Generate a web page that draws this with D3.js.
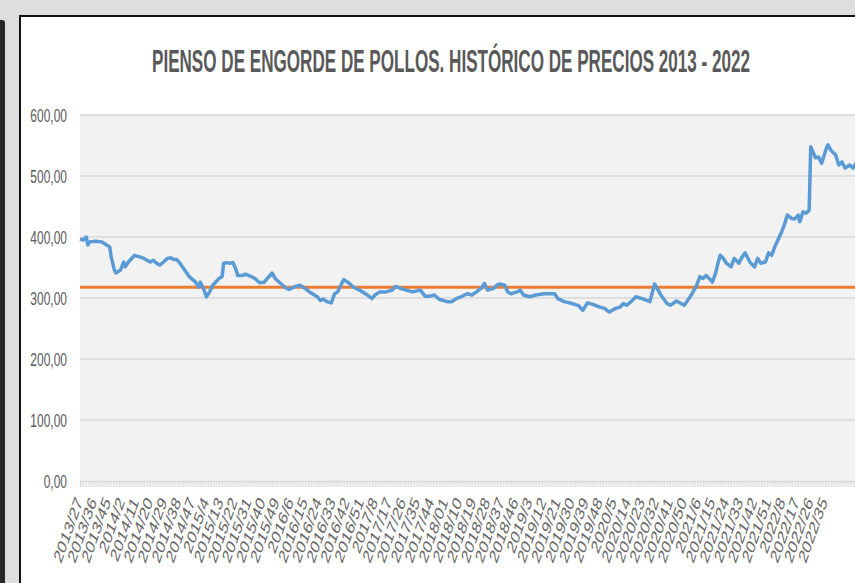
<!DOCTYPE html>
<html>
<head>
<meta charset="utf-8">
<script src="https://cdn.jsdelivr.net/npm/d3@7"></script>
<style>
  body { margin: 0; background: #dedede; overflow: hidden; }
  text { font-family: "Liberation Sans", Arial, sans-serif; }
</style>
</head>
<body>
<div id="chart"></div>
<script>
// weeks counted from 2013/27 (one category per week)
var weekNo = [0, 2, 4, 5, 6, 10, 14, 15, 17, 19, 20, 22, 23, 26, 28, 29, 31, 35, 36, 40,
  43, 45, 47, 49, 51, 53, 56, 58, 60, 62, 64, 67, 70, 74, 76, 77, 79, 81, 83, 85,
  88, 89, 91, 92, 94, 96, 98, 100, 101, 104, 106, 109, 112, 115, 118, 121, 123, 125, 128, 132,
  134, 138, 141, 144, 147, 152, 154, 156, 158, 161, 163, 165, 168, 169, 172, 175, 179, 184, 187, 189,
  192, 196, 200, 202, 205, 209, 213, 218, 221, 224, 227, 230, 235, 238, 241, 244, 248, 251, 254, 257,
  259, 261, 265, 267, 269, 272, 274, 276, 280, 282, 284, 288, 292, 297, 301, 304, 306, 310, 315, 319,
  322, 325, 328, 333, 336, 339, 343, 346, 348, 350, 353, 356, 360, 363, 365, 368, 370, 372, 376, 378,
  382, 385, 387, 390, 392, 395, 397, 399, 401, 403, 405, 407, 408, 410, 412, 414, 417, 419, 422, 424,
  426, 429, 432, 434, 436, 439, 441, 443, 445, 447, 449, 451, 453, 456, 458, 460, 461, 463, 465, 467,
  468, 469, 471, 473, 475, 478, 479, 481, 483, 484, 486, 488, 490, 493, 495, 497];

var price = [397, 395, 400, 387, 392, 393, 392, 390, 387, 384, 367, 346, 341, 346, 359, 351, 359, 370, 369, 366,
  362, 359, 362, 357, 354, 358, 365, 366, 363, 363, 357, 346, 335, 326, 318, 326, 316, 302, 310, 321,
  329, 332, 335, 357, 358, 357, 358, 346, 337, 337, 339, 336, 332, 325, 326, 335, 341, 332, 325, 316,
  314, 319, 321, 316, 310, 302, 296, 298, 294, 292, 307, 310, 326, 330, 325, 318, 313, 305, 299, 305,
  310, 310, 313, 319, 316, 313, 310, 313, 303, 303, 305, 298, 294, 294, 299, 302, 307, 305, 310, 316,
  324, 313, 316, 321, 323, 321, 310, 307, 310, 313, 305, 302, 305, 307, 307, 307, 299, 294, 291, 288,
  280, 292, 290, 285, 283, 277, 283, 285, 291, 288, 294, 302, 299, 296, 294, 323, 314, 305, 291, 288,
  295, 291, 288, 299, 307, 321, 335, 332, 337, 332, 326, 340, 351, 370, 365, 357, 351, 365, 357, 367,
  374, 359, 351, 365, 357, 359, 374, 370, 384, 395, 406, 419, 436, 430, 430, 436, 425, 441, 439, 444,
  548, 542, 530, 531, 521, 545, 551, 542, 537, 534, 518, 523, 513, 518, 513, 521];

var avgPrice = 317.5;

var yTicks = [0, 100, 200, 300, 400, 500, 600];

var tickLabels = ["2013/27", "2013/36", "2013/45", "2014/2", "2014/11", "2014/20", "2014/29", "2014/38", "2014/47",
  "2015/4", "2015/13", "2015/22", "2015/31", "2015/40", "2015/49", "2016/6", "2016/15", "2016/24", "2016/33",
  "2016/42", "2016/51", "2017/8", "2017/17", "2017/26", "2017/35", "2017/44", "2018/01", "2018/10", "2018/19",
  "2018/28", "2018/37", "2018/46", "2019/3", "2019/12", "2019/21", "2019/30", "2019/39", "2019/48", "2020/5",
  "2020/14", "2020/23", "2020/32", "2020/41", "2020/50", "2021/6", "2021/15", "2021/24", "2021/33", "2021/42",
  "2021/51", "2022/8", "2022/17", "2022/26", "2022/35"];
var labelStep = 9;
var lastWeek = 497;

var svgWidth = 855;
var svgHeight = 583;
var plot = { left: 80, right: 856, top: 115, bottom: 481 };
var stretch = 1.5; // the picture is stretched vertically

var svg = d3.select("#chart")
  .append("svg")
  .attr("width", svgWidth)
  .attr("height", svgHeight);

// window frame
svg.append("rect").attr("width", svgWidth).attr("height", svgHeight).attr("fill", "#dedede");
svg.append("rect").attr("x", -3).attr("y", 20).attr("width", 8).attr("height", 580)
  .attr("rx", 3).attr("fill", "#262626");
svg.append("rect").attr("x", 20).attr("y", 16).attr("width", 850).attr("height", 600)
  .attr("fill", "#ffffff").attr("stroke", "#111").attr("stroke-width", 2);

var x = d3.scaleLinear().domain([0, lastWeek]).range([plot.left, plot.right]);
var y = d3.scaleLinear().domain([0, 600]).range([plot.bottom, plot.top]);

// plot background
svg.append("rect")
  .attr("x", plot.left).attr("y", plot.top - 1)
  .attr("width", plot.right - plot.left).attr("height", plot.bottom - plot.top + 1)
  .attr("fill", "#f2f2f2");

// gridlines
svg.append("g").selectAll("line")
  .data(yTicks.slice(1))
  .enter()
  .append("line")
  .attr("x1", plot.left).attr("x2", plot.right)
  .attr("y1", d => y(d)).attr("y2", d => y(d))
  .attr("stroke", "#d9d9d9")
  .attr("stroke-width", 1.5);

// weekly tick marks
var tickAxis = d3.axisBottom(x)
  .tickValues(d3.range(0, lastWeek + 1))
  .tickSize(6)
  .tickFormat("");
var tickG = svg.append("g")
  .attr("transform", `translate(0, ${plot.bottom})`)
  .call(tickAxis);
tickG.select(".domain").attr("stroke", "#d9d9d9").attr("stroke-width", 1.5);
tickG.selectAll(".tick line").attr("stroke", "#dadada").attr("stroke-width", 0.8);

// y axis labels
var leftAxis = d3.axisLeft(y)
  .tickValues(yTicks)
  .tickSize(0)
  .tickPadding(0)
  .tickFormat(d => d3.format(".2f")(d).replace(".", ","));
var yG = svg.append("g")
  .attr("transform", `translate(67, 0)`)
  .call(leftAxis);
yG.select(".domain").remove();
yG.selectAll("text")
  .attr("fill", "#595959")
  .style("font-size", "12px")
  .attr("dy", "0.36em")
  .attr("transform", `scale(1, ${stretch})`)
  .attr("y", 0);

// x labels
svg.append("g").selectAll("text")
  .data(tickLabels)
  .enter()
  .append("text")
  .attr("transform", (d, i) => `translate(${x(i * labelStep) + 3}, 502) scale(1, ${stretch}) rotate(-62)`)
  .attr("text-anchor", "end")
  .attr("fill", "#666666")
  .style("font-size", "13px")
  .text(d => d);

// average line
svg.append("line")
  .attr("x1", plot.left).attr("x2", plot.right)
  .attr("y1", y(avgPrice)).attr("y2", y(avgPrice))
  .attr("stroke", "#ed7d31")
  .attr("stroke-width", 3);

// price line
var series = weekNo.map((w, i) => ({ w: w, p: price[i] }));
var line = d3.line()
  .x(d => x(d.w))
  .y(d => y(d.p));

svg.append("path")
  .datum(series)
  .attr("d", line)
  .attr("fill", "none")
  .attr("stroke", "#5b9bd5")
  .attr("stroke-width", 3.5)
  .attr("stroke-linejoin", "round");

// title
svg.append("text")
  .attr("transform", `translate(451, 72) scale(1, ${stretch})`)
  .attr("text-anchor", "middle")
  .attr("fill", "#595959")
  .attr("textLength", 598)
  .attr("lengthAdjust", "spacingAndGlyphs")
  .style("font-size", "21px")
  .style("font-weight", "bold")
  .text("PIENSO DE ENGORDE DE POLLOS. HISTÓRICO DE PRECIOS 2013 - 2022");
</script>
</body>
</html>
